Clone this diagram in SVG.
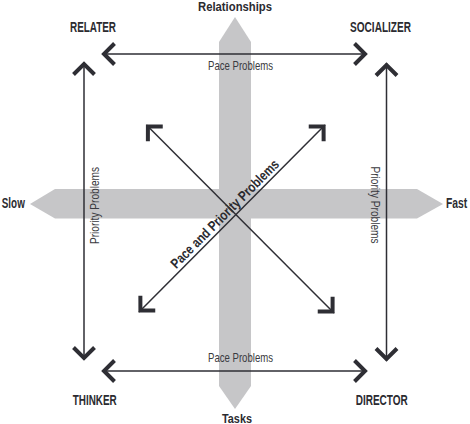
<svg xmlns="http://www.w3.org/2000/svg" width="470" height="424" viewBox="0 0 470 424">
<style>
.bar{fill:#c6c6c8}
.ln{stroke:#2e2e34;stroke-width:1.5;fill:none}
.hd{font-family:"Liberation Sans",Arial,sans-serif;font-weight:bold;fill:#2b2b30;text-anchor:middle}
.lb{font-family:"Liberation Sans",Arial,sans-serif;fill:#3a3a40;text-anchor:middle;font-size:13px}
</style>
<defs>
<marker id="chev" markerUnits="userSpaceOnUse" viewBox="-20 -20 40 40" markerWidth="40" markerHeight="40" refX="0" refY="0" orient="auto-start-reverse">
<path d="M -12.5 -10.5 L -2 0 L -12.5 10.5" fill="none" stroke="#2e2e34" stroke-width="4" stroke-linejoin="miter" stroke-miterlimit="4"/>
</marker>
</defs>
<g id="axes">
<polygon class="bar" points="219,42 235,17 251,42 251,386 235,409 219,386"/>
<polygon class="bar" points="30,204 55,189 417,189 443,204 417,218.5 55,218.5"/>
</g>
<g id="connectors">
<line class="ln" x1="102" y1="54" x2="367" y2="54" marker-start="url(#chev)" marker-end="url(#chev)"/>
<line class="ln" x1="102" y1="371" x2="367" y2="371" marker-start="url(#chev)" marker-end="url(#chev)"/>
<line class="ln" x1="84" y1="62" x2="84" y2="360" marker-start="url(#chev)" marker-end="url(#chev)"/>
<line class="ln" x1="386.5" y1="63" x2="386.5" y2="361" marker-start="url(#chev)" marker-end="url(#chev)"/>
<line class="ln" x1="146.5" y1="125" x2="334" y2="313" marker-start="url(#chev)" marker-end="url(#chev)"/>
<line class="ln" x1="139" y1="312" x2="325" y2="125" marker-start="url(#chev)" marker-end="url(#chev)"/>
</g>
<g id="labels">
<text class="lb" x="240.5" y="70" textLength="65" lengthAdjust="spacingAndGlyphs">Pace Problems</text>
<text class="lb" x="240.5" y="361.5" textLength="65" lengthAdjust="spacingAndGlyphs">Pace Problems</text>
<text class="lb" transform="translate(99,205.5) rotate(-90)" x="0" y="0" textLength="77" lengthAdjust="spacingAndGlyphs">Priority Problems</text>
<text class="lb" transform="translate(371,205) rotate(90)" x="0" y="0" textLength="77" lengthAdjust="spacingAndGlyphs">Priority Problems</text>
<text class="hd" transform="translate(228.1,217.2) rotate(-45)" x="0" y="0" font-size="14" textLength="147" lengthAdjust="spacingAndGlyphs">Pace and Priority Problems</text>
</g>
<g id="node-relationships"><text class="hd" x="235" y="10.7" font-size="13.5" textLength="74" lengthAdjust="spacingAndGlyphs">Relationships</text></g>
<g id="node-tasks"><text class="hd" x="237" y="422.5" font-size="13" textLength="30" lengthAdjust="spacingAndGlyphs">Tasks</text></g>
<g id="node-slow"><text class="hd" x="13.3" y="208.3" font-size="14" textLength="23" lengthAdjust="spacingAndGlyphs">Slow</text></g>
<g id="node-fast"><text class="hd" transform="translate(446,208.3) scale(0.74,1)" x="0" y="0" font-size="14" style="text-anchor:start">Fast</text></g>
<g id="node-relater"><text class="hd" x="93" y="32.3" font-size="14.5" textLength="46" lengthAdjust="spacingAndGlyphs">RELATER</text></g>
<g id="node-socializer"><text class="hd" x="380.5" y="32.3" font-size="14.5" textLength="61" lengthAdjust="spacingAndGlyphs">SOCIALIZER</text></g>
<g id="node-thinker"><text class="hd" x="94.7" y="405" font-size="14" textLength="44" lengthAdjust="spacingAndGlyphs">THINKER</text></g>
<g id="node-director"><text class="hd" x="381.7" y="405" font-size="14" textLength="52" lengthAdjust="spacingAndGlyphs">DIRECTOR</text></g>
</svg>
